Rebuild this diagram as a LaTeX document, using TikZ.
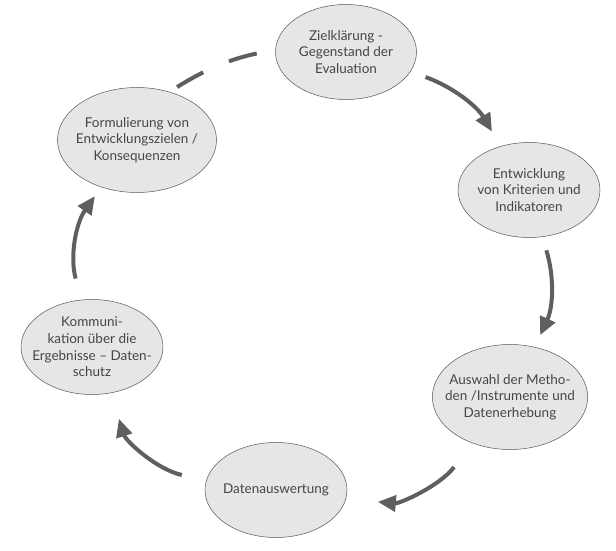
\documentclass[tikz,border=0pt]{standalone}
\usepackage{fontspec}
\setmainfont{Lato}
\usepackage{tikz}
\usetikzlibrary{arrows.meta, shapes.geometric}
\definecolor{stagefill}{HTML}{E6E6E6}
\definecolor{stageline}{HTML}{555555}
\definecolor{flowgray}{HTML}{5F5F5F}
\definecolor{textgray}{HTML}{454545}

\begin{document}
\begin{tikzpicture}[
      x=1pt, y=1pt,
      >={Triangle[length=18pt, width=16pt]},
      stage/.style={
        ellipse, draw=stageline, line width=0.5pt, fill=stagefill,
        align=center, text=textgray, inner xsep=-10pt, inner ysep=0pt,
        font=\fontsize{13.5}{16.7}\selectfont,
        minimum width=142pt, minimum height=95pt,
      },
      flowarrow/.style={
        ->, draw=flowgray, line width=4pt,
      },
      openlink/.style={
        draw=flowgray, line width=4pt, dash pattern=on 30pt off 28pt,
      }
    ]
      \useasboundingbox (0,0) rectangle (616,550);

      % stages of the cycle
      \node[stage, minimum width=141pt] (ziel) at (346,498) {Zielklärung -\\Gegenstand der\\Evaluation};
      \node[stage] (krit) at (529,360) {Entwicklung\\von Kriterien und\\Indikatoren};
      \node[stage, minimum width=155pt, minimum height=105pt] (meth) at (510,153) {Auswahl der Metho-\\den /Instrumente und\\Datenerhebung};
      \node[stage] (ausw) at (276,60) {Datenauswertung};
      \node[stage] (komm) at (92,203) {Kommuni-\\kation über die\\Ergebnisse -- Daten-\\schutz};
      \node[stage, minimum width=159pt, minimum height=105pt] (form) at (137,410) {Formulierung von\\Entwicklungszielen /\\Konsequenzen};

      % Draw arrows
      \draw[flowarrow, shorten <=16pt, shorten >=17pt] (ziel) to[bend left=20] (krit);
      \draw[flowarrow, shorten <=14pt, shorten >=13pt] (krit) to[bend left=21] (meth);
      \draw[flowarrow, shorten <=30pt, shorten >=32pt] (meth) to[bend left=29] (ausw);
      \draw[flowarrow, shorten <=25pt, shorten >=27pt] (ausw) to[bend left=30] (komm);
      \draw[flowarrow, shorten <=22pt, shorten >=11pt] (komm) to[bend left=25] (form);
      \draw[openlink, shorten <=9pt, shorten >=19pt] (form.56) to[out=32, in=192] (ziel.178);
    \end{tikzpicture}
\end{document}
